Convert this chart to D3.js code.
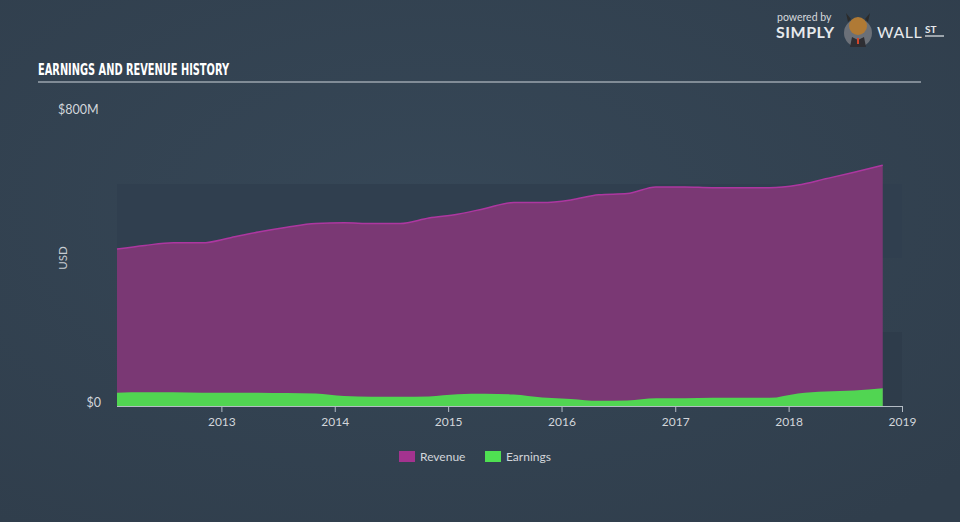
<!DOCTYPE html>
<html><head><meta charset="utf-8">
<script src="https://cdn.jsdelivr.net/npm/d3@7"></script>
<style>html,body{margin:0;padding:0;background:#344354;}svg{display:block;}</style>
</head><body>
<svg id="chart" width="960" height="522"></svg>
<script>
const dates = ["2012-01-31","2012-04-30","2012-07-31","2012-10-31","2013-01-31","2013-04-30","2013-07-31","2013-10-31","2014-01-31","2014-04-30","2014-07-31","2014-10-31","2015-01-31","2015-04-30","2015-07-31","2015-10-31","2016-01-31","2016-04-30","2016-07-31","2016-10-31","2017-01-31","2017-04-30","2017-07-31","2017-10-31","2018-01-31","2018-04-30","2018-07-31","2018-10-31"];
const revenue = [424,434,441,441,455,470,483,493,495,493,493,508,518,534,550,550,557,571,574,592,592,590,590,590,597,614,632,651];
const earnings = [36,37,37,36,36,36,35,34,27,25,25,26,32,33,31,23,19,14,15,21,21,22,22,22,34,39,42,48];
const yearTicks = [2013,2014,2015,2016,2017,2018,2019];
const yTickLabels = ["$0","$800M"];
const seriesNames = ["Revenue","Earnings"];

(function(){
const svg = d3.select("#chart");
const W = 960, H = 522;
const parse = d3.timeParse("%Y-%m-%d");
const data = dates.map((d,i)=>({date:parse(d), rev:revenue[i], earn:earnings[i]}));

const defs = svg.append("defs");
const rg = defs.append("radialGradient").attr("id","bg").attr("cx","45%").attr("cy","40%").attr("r","75%");
rg.append("stop").attr("offset","0%").attr("stop-color","#364757");
rg.append("stop").attr("offset","100%").attr("stop-color","#303e4c");
svg.append("rect").attr("width",W).attr("height",H).attr("fill","url(#bg)");

const pl = 117, pr = 902, pt = 110, pb = 406;
const x = d3.scaleTime().domain([parse(dates[0]), new Date(2019,0,1)]).range([pl,pr]);
const y = d3.scaleLinear().domain([0,800]).range([pb,pt]);

[[0,200],[400,600]].forEach(b=>{
  svg.append("rect").attr("x",pl).attr("width",pr-pl)
    .attr("y",y(b[1])).attr("height",y(b[0])-y(b[1])).attr("fill","#2e3c4a").attr("opacity",0.85);
});
svg.append("rect").attr("x",pl).attr("width",pr-pl)
    .attr("y",y(600)).attr("height",y(400)-y(600)).attr("fill","#324151").attr("opacity",0.6);

const curve = d3.curveMonotoneX;
const areaRev = d3.area().x(d=>x(d.date)).y0(y(0)).y1(d=>y(d.rev)).curve(curve);
const lineRev = d3.line().x(d=>x(d.date)).y(d=>y(d.rev)).curve(curve);
const areaEarn = d3.area().x(d=>x(d.date)).y0(y(0)).y1(d=>y(d.earn)).curve(curve);

svg.append("path").datum(data).attr("d",areaRev).attr("fill","#7a3874");
svg.append("path").datum(data).attr("d",lineRev).attr("fill","none").attr("stroke","#ad37a0").attr("stroke-width",1.5);
svg.append("path").datum(data).attr("d",areaEarn).attr("fill","#51d552");

const xAxis = d3.axisBottom(x).tickValues(yearTicks.map(yv=>new Date(yv,0,1))).tickFormat(d3.timeFormat("%Y")).tickSizeOuter(0).tickSize(6);
const gx = svg.append("g").attr("transform",`translate(0,${pb})`).call(xAxis);
gx.select(".domain").attr("stroke","#b4bcc5").attr("stroke-width",1.2).attr("d",`M${pl},0.5H${pr}`);
gx.selectAll(".tick line").attr("stroke","#b4bcc5");
gx.selectAll(".tick text").attr("fill","#d2d6db").attr("font-family","Lato, 'Open Sans', sans-serif").attr("font-size",12).attr("dy","0.9em");

const yt = [0,800];
svg.selectAll(".ylab").data(yt).enter().append("text")
  .attr("x",(d,i)=> i===0 ? 101 : 58).attr("y",d=>y(d)+(d===0?-3:0)).attr("dy","0.35em")
  .attr("text-anchor",(d,i)=> i===0 ? "end" : "start")
  .attr("fill","#d2d6db").attr("font-family","Lato, 'Open Sans', sans-serif").attr("font-size",12.5)
  .text((d,i)=>yTickLabels[i]);

svg.append("text").attr("transform","translate(67,258) rotate(-90)").attr("text-anchor","middle")
  .attr("fill","#c8cdd3").attr("font-family","Lato, 'Open Sans', sans-serif").attr("font-size",11.5).text("USD");

svg.append("text").attr("x",38).attr("y",75).attr("fill","#ffffff")
  .attr("font-family","'DejaVu Sans Condensed', 'Liberation Sans Narrow', sans-serif").attr("font-weight","bold")
  .attr("font-size",15.5).attr("textLength",191).attr("lengthAdjust","spacingAndGlyphs")
  .text("EARNINGS AND REVENUE HISTORY");
svg.append("line").attr("x1",38).attr("x2",921).attr("y1",82).attr("y2",82).attr("stroke","#9ba4ae").attr("stroke-width",1.5);

const legColors = ["#a3338f","#4fe052"];
const legX = [399,485];
seriesNames.forEach((n,i)=>{
  svg.append("rect").attr("x",legX[i]).attr("y",451).attr("width",16).attr("height",11).attr("fill",legColors[i]);
  svg.append("text").attr("x",legX[i]+21).attr("y",457).attr("dy","0.35em").attr("fill","#d2d6db")
    .attr("font-family","Lato, 'Open Sans', sans-serif").attr("font-size",12).text(n);
});

const lg = svg.append("g");
lg.append("text").attr("x",777).attr("y",21).attr("fill","#d5d9de").attr("font-family","Lato, sans-serif").attr("font-size",10.5).text("powered by");
lg.append("text").attr("x",776).attr("y",38).attr("fill","#e6e9ec").attr("font-family","Lato, sans-serif").attr("font-weight","bold").attr("font-size",16).attr("letter-spacing",0.5).text("SIMPLY");
lg.append("circle").attr("cx",858).attr("cy",33).attr("r",14).attr("fill","#6b7078");
lg.append("ellipse").attr("cx",858).attr("cy",26).attr("rx",9).attr("ry",9).attr("fill","#b07a35");
lg.append("path").attr("d","M848,22 L846,13 L851,19 Z M868,22 L870,13 L865,19 Z").attr("fill","#2b2b2b");
lg.append("path").attr("d","M850,47 L852,37 L858,40 L864,37 L866,47 Z").attr("fill","#2e2e33");
lg.append("rect").attr("x",857).attr("y",38).attr("width",2).attr("height",6).attr("fill","#d2452b");
lg.append("text").attr("x",877).attr("y",38).attr("fill","#e6e9ec").attr("font-family","Lato, sans-serif").attr("font-size",16).attr("letter-spacing",0.5).text("WALL");
lg.append("text").attr("x",925).attr("y",33).attr("fill","#e6e9ec").attr("font-family","Lato, sans-serif").attr("font-weight","bold").attr("font-size",10).text("ST");
lg.append("line").attr("x1",925).attr("x2",944).attr("y1",36).attr("y2",36).attr("stroke","#e6e9ec").attr("stroke-width",1.2);
})();
</script>
</body></html>
